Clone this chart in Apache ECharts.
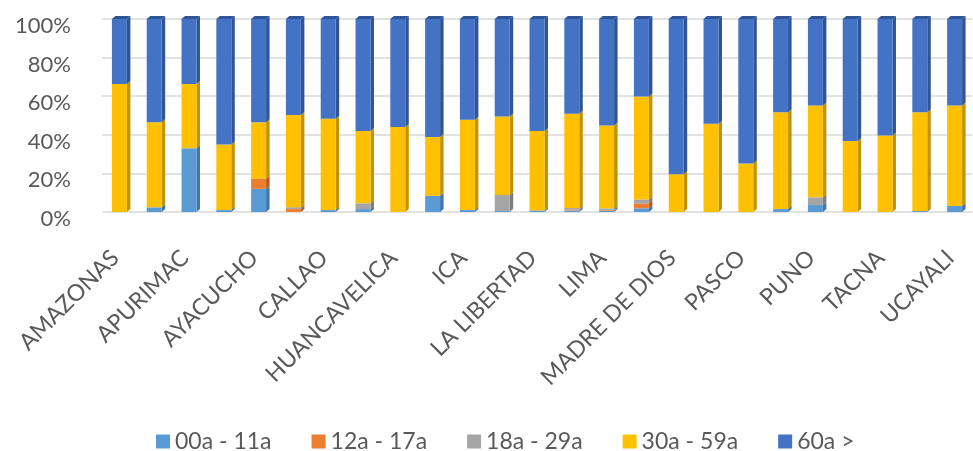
<!DOCTYPE html>
<html>
<head>
<meta charset="utf-8">
<script src="https://cdn.jsdelivr.net/npm/echarts@6/dist/echarts.min.js"></script>
<style>
html,body{margin:0;padding:0;background:#fff;}
#chart{width:973px;height:451px;}
</style>
</head>
<body>
<div id="chart"></div>
<script>
var categories = ['AMAZONAS','ANCASH','APURIMAC','AREQUIPA','AYACUCHO','CAJAMARCA','CALLAO','CUSCO','HUANCAVELICA','HUANUCO','ICA','JUNIN','LA LIBERTAD','LAMBAYEQUE','LIMA','LORETO','MADRE DE DIOS','MOQUEGUA','PASCO','PIURA','PUNO','SAN MARTIN','TACNA','TUMBES','UCAYALI'];
var seriesNames = ['00a - 11a','12a - 17a','18a - 29a','30a - 59a','60a >'];
var v00_11 = [0, 2.4, 33, 1, 12, 0, 1, 1.5, 0, 8.4, 1, 0.5, 0.8, 0.8, 0.7, 1.9, 0, 0, 0, 1.5, 3.6, 0, 0, 0.5, 3.1];
var v12_17 = [0, 0, 0, 0, 5.2, 1.5, 0, 0, 0, 0, 0, 0, 0, 0.5, 0.4, 2.6, 0, 0, 0, 0, 0, 0, 0, 0, 0];
var v18_29 = [0, 0, 0, 0, 0, 1, 0, 3, 0, 0, 0, 8.3, 0, 0.8, 0.8, 2, 0, 0, 0, 0, 4, 0, 0, 0, 0];
var v30_59 = [66.3, 44.1, 33.3, 34, 29.3, 47.8, 47.3, 37.5, 44, 30.4, 46.8, 40.7, 41.2, 48.8, 42.9, 53.3, 19.6, 45.7, 25.1, 50.2, 47.6, 36.8, 39.7, 51.2, 52.1];
var v60 = [33.7, 53.5, 33.7, 65, 53.5, 49.7, 51.7, 58, 56, 61.2, 52.2, 50.5, 58, 49.1, 55.2, 40.2, 80.4, 54.3, 74.9, 48.3, 44.8, 63.2, 60.3, 48.3, 44.8];
var yTicks = [0, 20, 40, 60, 80, 100];

var values = [v00_11, v12_17, v18_29, v30_59, v60];
var colors = ['#5b9bd5', '#ed7d31', '#a5a5a5', '#ffc000', '#4472c4'];
var sideColors = ['#3f77aa', '#b45a1f', '#7c7c7c', '#c29200', '#2f5597'];
var topColors = ['#4a86c0', '#c96a28', '#8f8f8f', '#d9a400', '#2f5597'];

var FONT = 'Lato, "Open Sans", sans-serif';
var TXT = '#595959';

function makeRender(k) {
  return function (params, api) {
    var cat = api.value(0), lo = api.value(1), hi = api.value(2);
    if (!(hi - lo > 0)) return null;
    var p0 = api.coord([cat, lo]);
    var p1 = api.coord([cat, hi]);
    var bw = api.size([1, 0])[0] * 0.43;
    var dx = 3.5, dy = 3;
    var x = p0[0] - bw / 2;
    var yT = p1[1], yB = p0[1];
    var children = [
      {type: 'polygon', shape: {points: [[x + bw, yT], [x + bw + dx, yT - dy], [x + bw + dx, yB - dy], [x + bw, yB]]}, style: {fill: sideColors[k]}},
      {type: 'rect', shape: {x: x, y: yT, width: bw, height: yB - yT}, style: {fill: colors[k]}}
    ];
    if (hi >= 99.5) {
      children.push({type: 'polygon', shape: {points: [[x, yT], [x + dx, yT - dy], [x + bw + dx, yT - dy], [x + bw, yT]]}, style: {fill: topColors[k]}});
    }
    return {type: 'group', children: children};
  };
}

var cum = categories.map(function () { return 0; });
var series = values.map(function (arr, k) {
  var data = arr.map(function (v, i) {
    var lo = cum[i];
    cum[i] = lo + v;
    return [i, lo, lo + v];
  });
  return {
    name: seriesNames[k],
    type: 'custom',
    renderItem: makeRender(k),
    itemStyle: {color: colors[k]},
    encode: {x: 0, y: [1, 2]},
    data: data,
    z: 2
  };
});

var chart = echarts.init(document.getElementById('chart'));
chart.setOption({
  animation: false,
  backgroundColor: '#fff',
  grid: {left: 102, right: 1, top: 19, bottom: 239, containLabel: false},
  legend: {
    data: seriesNames.map(function (n) { return {name: n, icon: 'rect'}; }),
    left: 151, top: 425,
    itemWidth: 14, itemHeight: 14, itemGap: 40,
    textStyle: {color: TXT, fontSize: 23, fontFamily: FONT}
  },
  xAxis: {
    type: 'category',
    data: categories,
    axisLine: {show: false},
    axisTick: {show: false},
    axisLabel: {
      interval: 1, rotate: 45, margin: 38,
      formatter: function (v) { return '{c|' + v + '}'; },
      rich: {c: {color: TXT, fontSize: 23, fontFamily: FONT, padding: [0, 6, 0, 0]}}
    }
  },
  yAxis: {
    type: 'value',
    min: yTicks[0], max: yTicks[yTicks.length - 1], interval: 20,
    axisLine: {show: false},
    axisTick: {show: false},
    axisLabel: {
      margin: 31,
      formatter: function (v) { return '{p|' + v + '%}'; },
      rich: {p: {color: TXT, fontSize: 22, fontFamily: FONT, padding: [14, 0, 0, 0]}}
    },
    splitLine: {lineStyle: {color: '#d9d9d9', width: 1.5}}
  },
  series: series
});
</script>
</body>
</html>
